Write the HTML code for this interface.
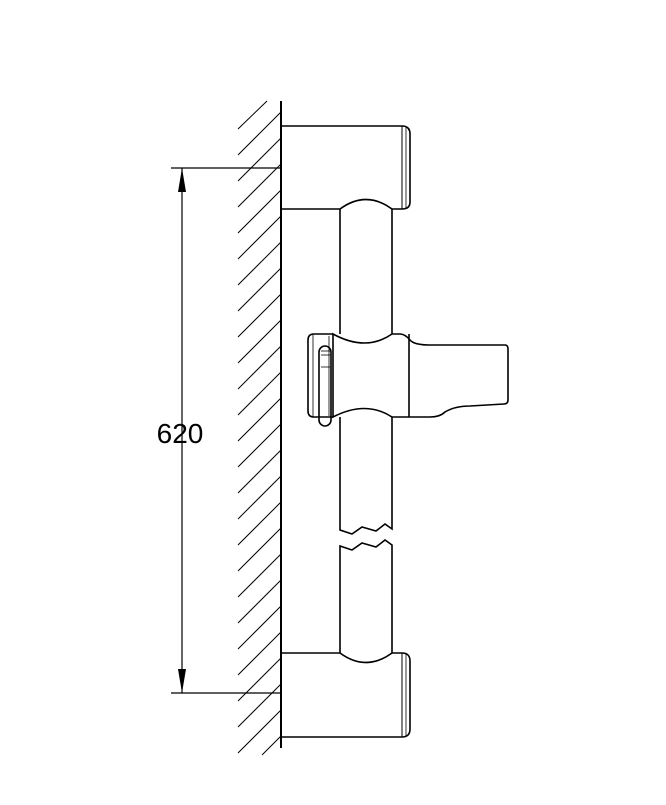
<!DOCTYPE html>
<html><head><style>body{margin:0;background:#fff}</style></head><body>
<svg width="666" height="800" xmlns="http://www.w3.org/2000/svg" fill="none" stroke="#000" stroke-width="1.6">
<g stroke-width="1">
<line x1="238" y1="129" x2="267" y2="101"/>
<line x1="238" y1="155" x2="281" y2="112"/>
<line x1="238" y1="181" x2="281" y2="138"/>
<line x1="238" y1="207" x2="281" y2="164"/>
<line x1="238" y1="233" x2="281" y2="190"/>
<line x1="238" y1="259" x2="281" y2="216"/>
<line x1="238" y1="285" x2="281" y2="242"/>
<line x1="238" y1="311" x2="281" y2="268"/>
<line x1="238" y1="337" x2="281" y2="294"/>
<line x1="238" y1="363" x2="281" y2="320"/>
<line x1="238" y1="389" x2="281" y2="346"/>
<line x1="238" y1="415" x2="281" y2="372"/>
<line x1="238" y1="441" x2="281" y2="398"/>
<line x1="238" y1="467" x2="281" y2="424"/>
<line x1="238" y1="493" x2="281" y2="450"/>
<line x1="238" y1="519" x2="281" y2="476"/>
<line x1="238" y1="545" x2="281" y2="502"/>
<line x1="238" y1="571" x2="281" y2="528"/>
<line x1="238" y1="597" x2="281" y2="554"/>
<line x1="238" y1="623" x2="281" y2="580"/>
<line x1="238" y1="649" x2="281" y2="606"/>
<line x1="238" y1="675" x2="281" y2="632"/>
<line x1="238" y1="701" x2="281" y2="658"/>
<line x1="238" y1="727" x2="281" y2="684"/>
<line x1="238" y1="753" x2="281" y2="710"/>
<line x1="262" y1="755" x2="281" y2="736"/>
</g>
<line x1="281" y1="101" x2="281" y2="748" stroke-width="2"/>
<!-- dimension -->
<g stroke-width="1.2">
<line x1="171" y1="168" x2="281" y2="168"/>
<line x1="171" y1="693" x2="281" y2="693"/>
<line x1="182" y1="168" x2="182" y2="693"/>
</g>
<polygon points="182,168 178,192 186,192" fill="#000" stroke="none"/>
<polygon points="182,693 178,669 186,669" fill="#000" stroke="none"/>
<text x="180" y="443" font-family="Liberation Sans, sans-serif" font-size="28" fill="#000" stroke="none" text-anchor="middle">620</text>
<!-- top bracket -->
<path d="M281 126 H402 Q410 126 410 134 V202 Q410 209 402 209 H392 Q366 190 340 209 H281"/>
<line x1="402" y1="126" x2="402" y2="209" stroke-width="1"/>
<line x1="406" y1="127" x2="406" y2="208" stroke-width="0.8"/>
<!-- bottom bracket -->
<path d="M281 653 H340 Q366 672 392 653 H402 Q410 653 410 661 V729 Q410 737 402 737 H281"/>
<line x1="402" y1="653" x2="402" y2="737" stroke-width="1"/>
<line x1="406" y1="654" x2="406" y2="736" stroke-width="0.8"/>
<!-- tube -->
<path d="M340 209 V334 M392 209 V334"/>
<path d="M340 417 V530 L352 534 L362 527 L376 531 L385 524 L392 529 V417"/>
<path d="M340 653 V546 L352 550 L362 543 L376 547 L385 540 L392 545 V653"/>
<!-- holder -->
<path d="M333 334 Q366 352 392 334 L400 334 Q405 334 410 340 Q414 345 430 345 H505 Q508 345 508 349 V400 Q508 404 504 404 L470 406 Q455 406 445 412 Q440 417 430 417 H392 Q366 400 333 417 Z"/>
<line x1="409" y1="334" x2="409" y2="417"/>
<path d="M333 334 H314 Q308 334 308 340 V411 Q308 417 314 417 H333"/>
<line x1="313" y1="335" x2="313" y2="416" stroke-width="0.8"/>
<rect x="319" y="346" width="12" height="80" rx="6"/>
<line x1="329" y1="336" x2="329" y2="416" stroke-width="0.8"/>
<line x1="321" y1="351" x2="330" y2="351" stroke-width="0.8"/>
<line x1="321" y1="355" x2="330" y2="355" stroke-width="0.8"/>
<line x1="321" y1="367" x2="330" y2="367" stroke-width="0.8"/>
</svg>
</body></html>
